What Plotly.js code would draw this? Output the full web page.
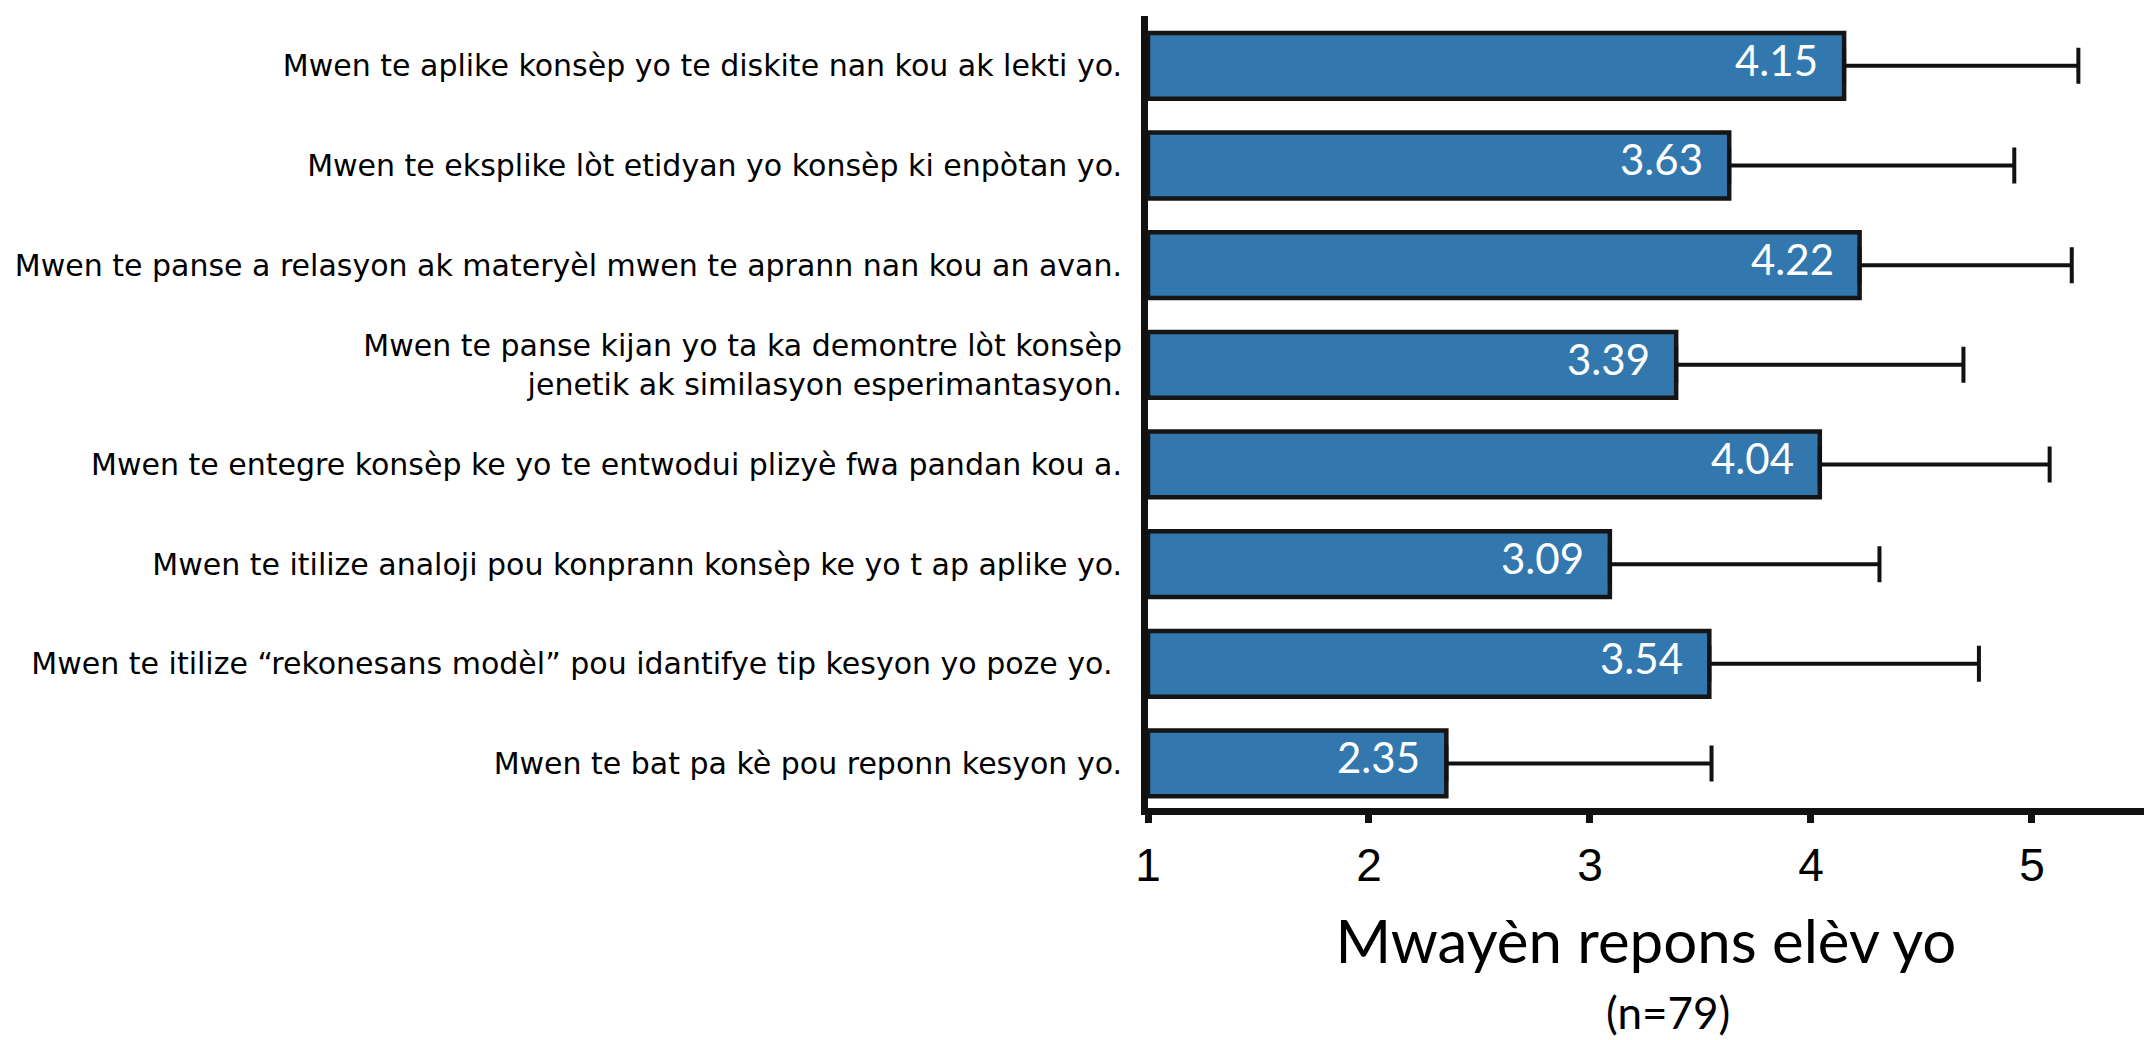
<!DOCTYPE html>
<html>
<head>
<meta charset="utf-8">
<script src="https://cdn.plot.ly/plotly-3.0.1.min.js"></script>
<style>html,body{margin:0;padding:0;background:#fff;}#chart{width:2144px;height:1040px;}</style>
</head>
<body>
<div id="chart"></div>
<script>
// Statements (top to bottom)
const statements = [
  "Mwen te aplike konsèp yo te diskite nan kou ak lekti yo.",
  "Mwen te eksplike lòt etidyan yo konsèp ki enpòtan yo.",
  "Mwen te panse a relasyon ak materyèl mwen te aprann nan kou an avan.",
  "Mwen te panse kijan yo ta ka demontre lòt konsèp<br>jenetik ak similasyon esperimantasyon.",
  "Mwen te entegre konsèp ke yo te entwodui plizyè fwa pandan kou a.",
  "Mwen te itilize analoji pou konprann konsèp ke yo t ap aplike yo.",
  "Mwen te itilize “rekonesans modèl” pou idantifye tip kesyon yo poze yo.\u00a0",
  "Mwen te bat pa kè pou reponn kesyon yo."
];
// Mean student response
const means = [4.15, 3.63, 4.22, 3.39, 4.04, 3.09, 3.54, 2.35];
// Error (plus side only)
const errPlus = [1.06, 1.29, 0.96, 1.30, 1.04, 1.22, 1.22, 1.20];
const errMinus = [0, 0, 0, 0, 0, 0, 0, 0];
// Axis ticks
const tickValues = [1, 2, 3, 4, 5];
const tickLabels = ["1", "2", "3", "4", "5"];
const xTitle = "Mwayèn repons elèv yo";
const nNote = "(n=79)";

// bars start at 1: plotted length = mean - 1
const trace = {
  type: 'bar',
  orientation: 'h',
  x: means.map(v => v - 1),
  y: statements,
  base: 1,
  customdata: means,
  marker: {color: '#3277ae', line: {color: '#151515', width: 4.5}},
  error_x: {type: 'data', symmetric: false, array: errPlus, arrayminus: errMinus,
            color: '#111', thickness: 4, width: 18},
  hovertemplate: '%{y}: %{customdata}<extra></extra>'
};

const valueAnnotations = means.map((v, i) => ({
  x: v, y: statements[i], xref: 'x', yref: 'y',
  text: v.toFixed(2), showarrow: false, xanchor: 'right', yanchor: 'middle',
  xshift: -24, yshift: 6,
  font: {family: 'Lato, "Open Sans", sans-serif', size: 42, color: '#ffffff'}
}));

const layout = {
  width: 2144, height: 1040,
  margin: {l: 1148, r: 0, t: 16, b: 232, pad: 0},
  paper_bgcolor: '#ffffff', plot_bgcolor: '#ffffff',
  showlegend: false,
  bargap: 0.34,
  xaxis: {
    range: [1, 5.507],
    tickvals: tickValues, ticktext: tickLabels,
    showgrid: false, zeroline: false,
    showline: true, linecolor: '#111', linewidth: 7,
    ticks: 'outside', ticklen: 8, tickwidth: 7, tickcolor: '#111',
    tickfont: {family: '"Liberation Sans", Arial, sans-serif', size: 46, color: '#000'},
    ticklabelstandoff: 3,
    title: {text: xTitle, standoff: 33,
            font: {family: 'Lato, "Open Sans", sans-serif', size: 60, color: '#000'}}
  },
  yaxis: {
    type: 'category',
    range: [7.447, -0.5],
    showgrid: false, zeroline: false,
    showline: true, linecolor: '#111', linewidth: 7,
    ticks: '', ticklabelstandoff: 13,
    tickfont: {family: '"DejaVu Sans", sans-serif', size: 30, color: '#000'}
  },
  annotations: valueAnnotations.concat([{
    text: nNote, xref: 'paper', yref: 'paper', x: 0.522, y: 0, yshift: -204,
    xanchor: 'center', yanchor: 'middle', showarrow: false,
    font: {family: 'Lato, "Open Sans", sans-serif', size: 44, color: '#000'}
  }])
};

Plotly.newPlot('chart', [trace], layout, {displayModeBar: false, staticPlot: true});
</script>
</body>
</html>
